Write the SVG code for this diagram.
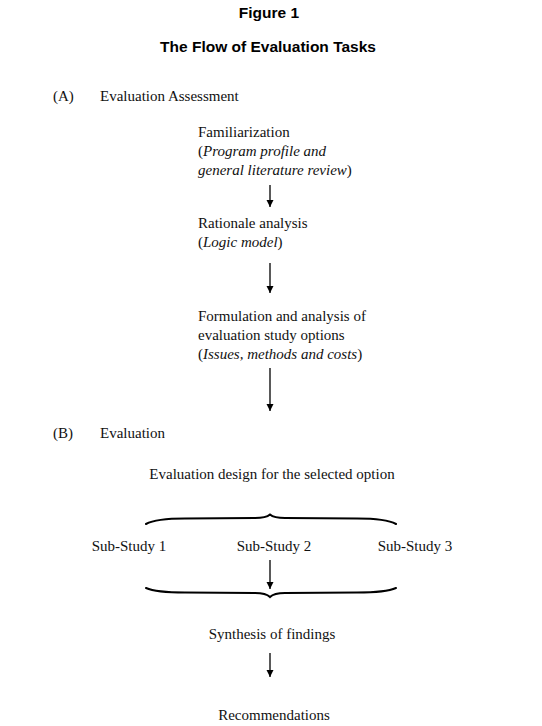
<svg xmlns="http://www.w3.org/2000/svg" width="542" height="726" viewBox="0 0 542 726">
<style>
.t{font-family:"Liberation Sans",Arial,sans-serif;font-weight:bold;font-size:15.5px;fill:#000;text-anchor:middle}
.s{font-family:"Liberation Serif","Times New Roman",serif;font-size:15px;fill:#111}
.c{text-anchor:middle}
.ar{stroke:#000;stroke-width:1.3;fill:none}
.br{stroke:#000;stroke-width:2;fill:none;stroke-linecap:round}
</style>
<defs>
<marker id="ah" viewBox="0 0 10 10" refX="10" refY="5" markerWidth="7" markerHeight="9" markerUnits="userSpaceOnUse" orient="auto"><path d="M0,0 L10,5 L0,10 z" fill="#000"/></marker>
</defs>
<rect width="542" height="726" fill="#fff"/>
<text class="t" x="269" y="18">Figure 1</text>
<text class="t" x="268" y="52">The Flow of Evaluation Tasks</text>
<g id="secA"><text class="s" x="53" y="101">(A)</text><text class="s" x="100" y="101">Evaluation Assessment</text></g>
<g id="familiarization"><text class="s" x="198" y="137">Familiarization</text><text class="s" x="198" y="156">(<tspan font-style="italic">Program profile and</tspan></text><text class="s" x="198" y="175"><tspan font-style="italic">general literature review</tspan>)</text></g>
<g id="rationale"><text class="s" x="198" y="228">Rationale analysis</text><text class="s" x="198" y="247">(<tspan font-style="italic">Logic model</tspan>)</text></g>
<g id="formulation"><text class="s" x="198" y="321">Formulation and analysis of</text><text class="s" x="198" y="340">evaluation study options</text><text class="s" x="198" y="359">(<tspan font-style="italic">Issues, methods and costs</tspan>)</text></g>
<g id="secB"><text class="s" x="53" y="438">(B)</text><text class="s" x="100" y="438">Evaluation</text></g>
<g id="design"><text class="s c" x="272" y="479">Evaluation design for the selected option</text></g>
<g id="sub1"><text class="s c" x="129" y="551">Sub-Study 1</text></g>
<g id="sub2"><text class="s c" x="274" y="551">Sub-Study 2</text></g>
<g id="sub3"><text class="s c" x="415" y="551">Sub-Study 3</text></g>
<g id="synthesis"><text class="s c" x="272" y="639">Synthesis of findings</text></g>
<g id="recommendations"><text class="s c" x="274" y="720">Recommendations</text></g>
<g id="connectors">
<line class="ar" x1="270" y1="185" x2="270" y2="207" marker-end="url(#ah)"/>
<line class="ar" x1="270" y1="263" x2="270" y2="293" marker-end="url(#ah)"/>
<line class="ar" x1="270" y1="368" x2="270" y2="411" marker-end="url(#ah)"/>
<line class="ar" x1="270" y1="560" x2="270" y2="589" marker-end="url(#ah)"/>
<line class="ar" x1="270" y1="653" x2="270" y2="677" marker-end="url(#ah)"/>
<path class="br" d="M146,524 Q156,518.5 185,518.5 L255,518 Q266,518 270,514.5 Q274,518 285,518 L357,518.5 Q386,518.5 396,524"/>
<path class="br" d="M146,588 Q156,592.5 185,592.5 L255,593 Q266,593 270,597 Q274,593 285,593 L357,592.5 Q386,592.5 396,588"/>
</g>
</svg>
